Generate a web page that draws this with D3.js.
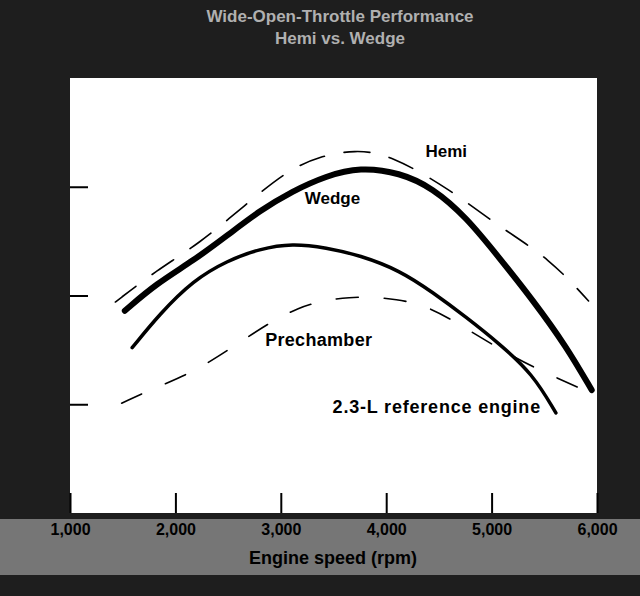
<!DOCTYPE html>
<html>
<head>
<meta charset="utf-8">
<script src="https://cdn.jsdelivr.net/npm/d3@7"></script>
<style>
	body { margin: 0; background: #1e1e1e; }
	svg text { font-family: "Liberation Sans", Arial, Helvetica, sans-serif; }
</style>
</head>
<body>
<div id="chart"></div>
<script>

// engine speed (rpm) and relative output
var wedgeRpm = [1520, 1820, 2170, 2490, 2800, 3110, 3430, 3750, 4130, 4440, 4760, 5070, 5390, 5710, 5950];
var wedgeVal = [1.86, 2.11, 2.32, 2.55, 2.78, 2.96, 3.10, 3.18, 3.13, 2.99, 2.72, 2.35, 1.96, 1.53, 1.13];

var refRpm = [1590, 1850, 2170, 2490, 2800, 3110, 3430, 3750, 4130, 4440, 4760, 5070, 5390, 5610];
var refVal = [1.52, 1.83, 2.14, 2.32, 2.43, 2.48, 2.44, 2.37, 2.23, 2.03, 1.80, 1.56, 1.28, 0.92];

var hemiRpm = [1430, 1820, 2230, 2660, 3060, 3370, 3700, 4030, 4600, 5090, 5550, 5920];
var hemiVal = [1.94, 2.23, 2.48, 2.83, 3.15, 3.28, 3.34, 3.30, 2.98, 2.62, 2.34, 1.95];

var preRpm = [1490, 1850, 2210, 2700, 3160, 3650, 4130, 4410, 4670, 5070, 5390, 5950];
var preVal = [1.01, 1.17, 1.31, 1.63, 1.91, 2.00, 1.97, 1.89, 1.75, 1.51, 1.34, 1.10];

var xTicks = [1000, 2000, 3000, 4000, 5000, 6000];
var xTickLabels = ["1,000", "2,000", "3,000", "4,000", "5,000", "6,000"];
var yTicks = [1, 2, 3];

var titleLines = ["Wide-Open-Throttle Performance", "Hemi vs. Wedge"];
var xTitle = "Engine speed (rpm)";


var margins = {top: 78, bottom: 83, left: 70, right: 43},
	fullWidth = 640, fullHeight = 596,
	width = fullWidth - margins.left - margins.right,
	height = fullHeight - margins.top - margins.bottom;

var xScale = d3.scaleLinear().domain([1000, 6000]).range([0, width]);
var yScale = d3.scaleLinear().domain([0, 4]).range([height, 0]);

var svg = d3.select("#chart")
	.append("svg")
		.attr("width", fullWidth)
		.attr("height", fullHeight);

// dark scanned border, lighter strip behind the rpm labels
svg.append("rect")
	.attr("width", fullWidth)
	.attr("height", fullHeight)
	.attr("fill", "#1e1e1e");

svg.append("rect")
	.attr("y", margins.top + height + 6)
	.attr("width", fullWidth)
	.attr("height", 56)
	.attr("fill", "#767676");

svg.selectAll("text.title")
	.data(titleLines)
	.enter().append("text")
		.attr("class", "title")
		.attr("x", 340)
		.attr("y", function(d, i) { return 22 + i * 22; })
		.attr("text-anchor", "middle")
		.attr("font-size", "17px")
		.attr("font-weight", "bold")
		.attr("fill", "#b0b0b0")
		.text(function(d) { return d; });

var g = svg.append("g")
	.attr("transform", "translate(" + margins.left + "," + margins.top + ")");

g.append("rect")
	.attr("width", width)
	.attr("height", height)
	.attr("fill", "#fff");

var xAxis = d3.axisBottom(xScale)
	.tickValues(xTicks)
	.tickSizeInner(-20)
	.tickSizeOuter(0)
	.tickPadding(11)
	.tickFormat(function(d, i) { return xTickLabels[i]; });

var yAxis = d3.axisLeft(yScale)
	.tickValues(yTicks)
	.tickSizeInner(-18)
	.tickSizeOuter(0)
	.tickFormat("");

g.append("g")
	.attr("class", "x axis")
	.attr("transform", "translate(0," + height + ")")
	.call(xAxis)
	.call(function(a) {
		a.select(".domain").remove();
		a.selectAll("line").attr("stroke", "#000").attr("stroke-width", 2);
		a.selectAll("text")
			.attr("font-size", "16px")
			.attr("font-weight", "bold")
			.attr("fill", "#000")
			.attr("font-family", "Liberation Sans, Arial, sans-serif");
	});

g.append("g")
	.attr("class", "y axis")
	.call(yAxis)
	.call(function(a) {
		a.select(".domain").remove();
		a.selectAll("line").attr("stroke", "#000").attr("stroke-width", 2);
	});

svg.append("text")
	.attr("x", 333)
	.attr("y", 564)
	.attr("text-anchor", "middle")
	.attr("font-size", "18px")
	.attr("font-weight", "bold")
	.attr("fill", "#000")
	.text(xTitle);


var line = d3.line()
	.x(function(d) { return xScale(d[0]); })
	.y(function(d) { return yScale(d[1]); })
	.curve(d3.curveBasis);

function pairs(xs, ys) {
	return xs.map(function(x, i) { return [x, ys[i]]; });
}

var series = [
	{name: "Hemi", data: pairs(hemiRpm, hemiVal), width: 1.6, dash: "26,20"},
	{name: "Prechamber", data: pairs(preRpm, preVal), width: 1.6, dash: "22,26"},
	{name: "2.3-L reference engine", data: pairs(refRpm, refVal), width: 3.5, dash: null},
	{name: "Wedge", data: pairs(wedgeRpm, wedgeVal), width: 6, dash: null}
];

g.selectAll("path.curve")
	.data(series)
	.enter().append("path")
		.attr("class", "curve")
		.attr("d", function(d) { return line(d.data); })
		.attr("fill", "none")
		.attr("stroke", "#000")
		.attr("stroke-linecap", "round")
		.attr("stroke-width", function(d) { return d.width; })
		.attr("stroke-dasharray", function(d) { return d.dash; });

// curve labels, placed where the scan has them (rpm, value)
var labels = [
	{text: "Hemi", at: [4570, 3.33], size: 17, spacing: 0},
	{text: "Wedge", at: [3490, 2.90], size: 17, spacing: 0},
	{text: "Prechamber", at: [3360, 1.59], size: 18, spacing: 0.3},
	{text: "2.3-L reference engine", at: [4480, 0.98], size: 18, spacing: 0.8}
];

g.selectAll("text.label")
	.data(labels)
	.enter().append("text")
		.attr("class", "label")
		.attr("x", function(d) { return xScale(d.at[0]); })
		.attr("y", function(d) { return yScale(d.at[1]); })
		.attr("text-anchor", "middle")
		.attr("dy", "0.35em")
		.attr("font-size", function(d) { return d.size + "px"; })
		.attr("font-weight", "bold")
		.attr("letter-spacing", function(d) { return d.spacing + "px"; })
		.attr("fill", "#000")
		.text(function(d) { return d.text; });

</script>
</body>
</html>
